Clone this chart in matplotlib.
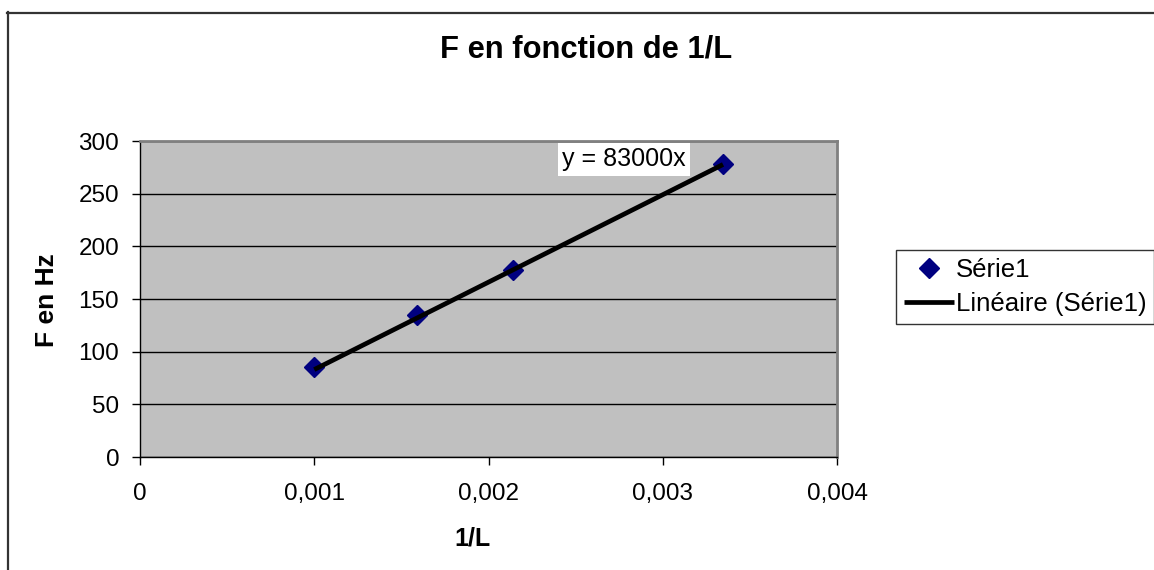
import matplotlib
matplotlib.use("Agg")
import matplotlib.pyplot as plt
from matplotlib.lines import Line2D
from matplotlib.ticker import FuncFormatter, MultipleLocator

plt.rcParams["font.family"] = ["Liberation Sans", "DejaVu Sans"]

# mesures : 1/L (m^-1) et frequence (Hz)
inv_L = [0.001, 0.00159, 0.00214, 0.003346]
freq_hz = [85, 135, 178, 278]

# droite de tendance y = a x
pente = 83000
x_tendance = [inv_L[0], inv_L[-1]]
y_tendance = [pente * x for x in x_tendance]

W, H = 1154, 570
fig = plt.figure(figsize=(W / 100, H / 100), dpi=100)

# cadre du graphique (coin haut gauche seulement visible)
fig.add_artist(Line2D([7 / W, 1.01], [1 - 12.5 / H] * 2, color="#333333", lw=1.6))
fig.add_artist(Line2D([7.5 / W] * 2, [1 - 12 / H, -0.01], color="#333333", lw=1.6))

ax = fig.add_axes([140 / W, 1 - 457 / H, 697 / W, 316 / H])
ax.set_facecolor("#c0c0c0")
ax.set_xlim(0, 0.004)
ax.set_ylim(0, 300)
ax.xaxis.set_major_locator(MultipleLocator(0.001))
ax.yaxis.set_major_locator(MultipleLocator(50))


def fmt_virgule(v, pos):
    if abs(v) < 1e-12:
        return "0"
    return f"{v:.3f}".replace(".", ",")


ax.xaxis.set_major_formatter(FuncFormatter(fmt_virgule))
ax.grid(axis="y", color="black", lw=1.0)
ax.set_axisbelow(True)

for cote in ("top", "right"):
    ax.spines[cote].set_color("#808080")
    ax.spines[cote].set_linewidth(2)
for cote in ("left", "bottom"):
    ax.spines[cote].set_color("black")
    ax.spines[cote].set_linewidth(1)

ax.tick_params(axis="both", direction="out", length=6, width=1, colors="black",
               labelsize=17.5)
ax.tick_params(axis="x", pad=13)
ax.tick_params(axis="y", pad=9)

ax.plot(inv_L, freq_hz, linestyle="none", marker="D", markersize=10,
        color="#000080", label="Série1", zorder=3)
ax.plot(x_tendance, y_tendance, color="black", lw=3.4, solid_capstyle="butt",
        label="Linéaire (Série1)", zorder=4)

ax.text(0.002423, 282.5, f"y = {pente}x", fontsize=18, ha="left", va="center",
        bbox=dict(facecolor="white", edgecolor="none", pad=3), zorder=5)

fig.text(586 / W, 1 - 50 / H, "F en fonction de 1/L", fontsize=22.2,
         fontweight="bold", ha="center", va="center")
fig.text(473 / W, 1 - 538 / H, "1/L", fontsize=18, fontweight="bold",
         ha="center", va="center")
fig.text(47 / W, 1 - 300 / H, "F en Hz", fontsize=19, fontweight="bold",
         ha="center", va="center", rotation=90)

leg = ax.legend(loc="center left", bbox_to_anchor=(896 / W, 1 - 287 / H),
                bbox_transform=fig.transFigure, fontsize=18.5, frameon=True,
                fancybox=False, edgecolor="black", handlelength=1.95,
                handletextpad=0.08, borderpad=0.3, labelspacing=0.4,
                borderaxespad=0)
leg.get_frame().set_linewidth(1)
leg.get_lines()[1].set_linewidth(3.4)

fig.savefig("out.png", dpi=100, facecolor="white")
